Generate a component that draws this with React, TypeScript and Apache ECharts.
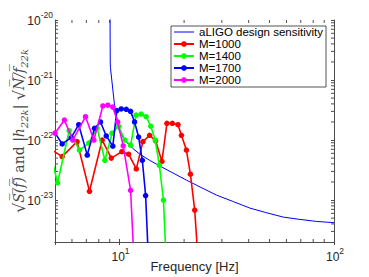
import React, { useEffect, useRef } from 'react';
import * as echarts from 'echarts';

// ---------------- data ----------------
const aligoFreq = [9.0, 9.05, 9.07, 9.5, 10, 10.75, 11.5, 12.4, 13.8, 15.4, 17.5, 20.5, 24, 28.3, 34, 40.5, 48, 58, 68, 83, 100];
const aligoAsd = [1e-19, 2.0e-21, 1.6e-21, 3.5e-22, 1.36e-22, 9.3e-23, 7.3e-23, 5.85e-23, 4.6e-23, 3.7e-23, 2.9e-23, 2.15e-23, 1.62e-23, 1.21e-23, 9.4e-24, 7.35e-24, 6.2e-24, 5.2e-24, 4.8e-24, 4.4e-24, 4.2e-24];

const m1000Freq = [4.5, 5.4, 6.34, 7.24, 8.3, 9.15, 10.25, 11.02, 11.97, 12.85, 13.81, 14.73, 15.76, 16.63, 17.63, 18.73, 19.43, 20.5, 21.4, 22.41, 23.36];
const m1000Val = [8.0e-23, 5.3e-23, 9.4e-23, 1.4e-23, 1.0e-22, 5.0e-23, 6.4e-23, 5.8e-23, 3.3e-23, 9.4e-23, 1.2e-22, 9.7e-23, 4.4e-23, 1.9e-22, 1.9e-22, 1.8e-22, 1.2e-22, 6.8e-23, 2.7e-23, 6.8e-24, 7.6e-25];

const m1400Freq = [4.61, 5.14, 5.82, 6.5, 7.18, 7.86, 8.54, 9.22, 9.9, 10.58, 11.26, 11.94, 12.62, 13.3, 13.98, 14.66, 15.34, 16.02, 16.7];
const m1400Val = [9.6e-23, 1.94e-23, 1.43e-22, 6.8e-23, 8.9e-23, 1.58e-22, 4.6e-23, 1.3e-22, 1.7e-22, 1.0e-22, 8.2e-23, 2.6e-22, 2.7e-22, 2.45e-22, 1.7e-22, 1.0e-22, 3.8e-23, 1.0e-23, 3.7e-25];

const m1700Freq = [4.76, 5.4, 5.95, 6.45, 7.07, 7.64, 8.15, 8.67, 9.3, 9.71, 10.18, 10.75, 11.26, 11.75, 12.27, 12.77, 13.23, 13.75];
const m1700Val = [1.72e-22, 8.6e-23, 1.1e-22, 1.8e-22, 5.6e-23, 1.57e-22, 2.0e-22, 1.17e-22, 7.9e-23, 3.1e-22, 3.3e-22, 3.25e-22, 3.0e-22, 2.0e-22, 1.12e-22, 4.6e-23, 1.19e-23, 5e-25];

const m2000Freq = [5.0, 5.53, 6.05, 6.94, 7.59, 8.36, 8.82, 9.3, 9.8, 10.4, 11.26, 11.8];
const m2000Val = [1.3e-22, 2.15e-22, 1.0e-22, 2.45e-22, 1.0e-22, 3.7e-22, 3.8e-22, 3.55e-22, 2.0e-22, 8e-23, 1.45e-23, 4.5e-25];

const seriesNames = ['aLIGO design sensitivity', 'M=1000', 'M=1400', 'M=1700', 'M=2000'];
const seriesColors = ['#0000ff', '#ff0000', '#00ff00', '#0000ff', '#ff00ff'];

const xRange = [5, 100];
const yRange = [2e-24, 1e-20];
const xMajorTicks = [10, 100];
const yMajorTicks = [1e-23, 1e-22, 1e-21, 1e-20];
const xMinorTicks = [6, 7, 8, 9, 20, 30, 40, 50, 60, 70, 80, 90];
const yMinorTicks = [
  3e-24, 4e-24, 5e-24, 6e-24, 7e-24, 8e-24, 9e-24,
  2e-23, 3e-23, 4e-23, 5e-23, 6e-23, 7e-23, 8e-23, 9e-23,
  2e-22, 3e-22, 4e-22, 5e-22, 6e-22, 7e-22, 8e-22, 9e-22,
  2e-21, 3e-21, 4e-21, 5e-21, 6e-21, 7e-21, 8e-21, 9e-21,
];

const zip = (a: number[], b: number[]) => a.map((v, i) => [v, b[i]]);

const AXIS_COLOR = '#4d4d4d';
const SANS = 'Liberation Sans, Arial, Helvetica, sans-serif';

const powText = (v: number) => `{b|10}{s|${Math.round(Math.log10(v))}}`;
const tickRich = {
  b: { fontFamily: SANS, fontSize: 12, fill: '#262626', lineHeight: 22, verticalAlign: 'middle' },
  s: { fontFamily: SANS, fontSize: 8.5, fill: '#262626', lineHeight: 6, verticalAlign: 'top' },
};

const O = '\u0305';
const over = (s: string) => s.split('').map((c) => c + O).join('');

export default function App() {
  const ref = useRef<HTMLDivElement>(null);
  useEffect(() => {
    if (!ref.current) return;
    const chart = echarts.init(ref.current, null, { renderer: 'svg' });
    const lineSeries = (i: number, f: number[], v: number[]) => ({
      name: seriesNames[i],
      type: 'line',
      data: zip(f, v),
      xAxisIndex: 0,
      yAxisIndex: 0,
      symbol: 'circle',
      symbolSize: 5.5,
      showSymbol: true,
      clip: true,
      lineStyle: { color: seriesColors[i], width: 1.6 },
      itemStyle: { color: seriesColors[i] },
      z: 3 + i,
    });
    const axisCommon = {
      type: 'log', logBase: 10,
      axisLine: { show: true, lineStyle: { color: AXIS_COLOR, width: 1 } },
      axisTick: { show: true, inside: true, length: 3, lineStyle: { color: AXIS_COLOR } },
      splitLine: { show: false },
      axisLabel: { show: false },
    };
    const option: any = {
      animation: false,
      backgroundColor: '#fff',
      grid: { left: 55, top: 20, width: 279, height: 222, containLabel: false, outerBoundsMode: 'none' },
      legend: {
        orient: 'vertical',
        left: 171,
        top: 26,
        align: 'left',
        backgroundColor: '#fff',
        borderColor: '#262626',
        borderWidth: 0.8,
        borderRadius: 0,
        padding: [0, 3, 1, 2],
        itemGap: 0,
        itemWidth: 20,
        itemHeight: 7,
        data: [
          { name: seriesNames[0], itemStyle: { opacity: 0 }, lineStyle: { width: 1 } },
          seriesNames[1], seriesNames[2], seriesNames[3], seriesNames[4],
        ],
        textStyle: { fontSize: 11.5, fontFamily: SANS, color: '#000', lineHeight: 11.8 },
      },
      xAxis: [
        {
          ...axisCommon, min: xRange[0], max: xRange[1], position: 'bottom',
          name: 'Frequency [Hz]', nameLocation: 'middle', nameGap: 18, nameMoveOverlap: false,
          nameTextStyle: { fontSize: 13, fontFamily: SANS, color: '#262626' },
        },
        { ...axisCommon, min: xRange[0], max: xRange[1], position: 'top' },
      ],
      yAxis: [
        { ...axisCommon, min: yRange[0], max: yRange[1], position: 'left' },
        { ...axisCommon, min: yRange[0], max: yRange[1], position: 'right' },
      ],
      series: [
        {
          name: seriesNames[0],
          type: 'line',
          data: zip(aligoFreq, aligoAsd),
          symbol: 'none',
          showSymbol: false,
          clip: true,
          lineStyle: { color: seriesColors[0], width: 1 },
          itemStyle: { color: seriesColors[0] },
          z: 2,
        },
        lineSeries(1, m1000Freq, m1000Val),
        lineSeries(2, m1400Freq, m1400Val),
        lineSeries(3, m1700Freq, m1700Val),
        lineSeries(4, m2000Freq, m2000Val),
      ],
    };
    chart.setOption(option);

    // minor ticks, tick labels and the y-axis title placed through the axes' own scales
    const xb = chart.convertToPixel({ yAxisIndex: 0 }, yRange[0]) as number;
    const xt = chart.convertToPixel({ yAxisIndex: 0 }, yRange[1]) as number;
    const yl = chart.convertToPixel({ xAxisIndex: 0 }, xRange[0]) as number;
    const yr = chart.convertToPixel({ xAxisIndex: 0 }, xRange[1]) as number;
    const L = 3;
    const st = { stroke: AXIS_COLOR, lineWidth: 1 };
    const g: any[] = [];
    if ([xb, xt, yl, yr].every((n) => isFinite(n))) {
      xMinorTicks.forEach((v) => {
        const px = chart.convertToPixel({ xAxisIndex: 0 }, v) as number;
        g.push({ type: 'line', shape: { x1: px, y1: xb, x2: px, y2: xb - L }, style: st, silent: true });
        g.push({ type: 'line', shape: { x1: px, y1: xt, x2: px, y2: xt + L }, style: st, silent: true });
      });
      yMinorTicks.forEach((v) => {
        const py = chart.convertToPixel({ yAxisIndex: 0 }, v) as number;
        g.push({ type: 'line', shape: { x1: yl, y1: py, x2: yl + L, y2: py }, style: st, silent: true });
        g.push({ type: 'line', shape: { x1: yr, y1: py, x2: yr - L, y2: py }, style: st, silent: true });
      });
      xMajorTicks.forEach((v) => {
        const px = chart.convertToPixel({ xAxisIndex: 0 }, v) as number;
        g.push({
          type: 'text', x: px + 1, y: xb + 15, silent: true,
          style: { text: powText(v), align: 'center', verticalAlign: 'middle', rich: tickRich },
        });
      });
      yMajorTicks.forEach((v) => {
        const py = chart.convertToPixel({ yAxisIndex: 0 }, v) as number;
        g.push({
          type: 'text', x: yl - 2, y: py + 1, silent: true,
          style: { text: powText(v), align: 'right', verticalAlign: 'middle', rich: tickRich },
        });
      });
      const C = '#4a4a4a';
      const F = 'DejaVu Serif';
      g.push({
        type: 'text',
        x: yl - 36,
        y: (xb + xt) / 2,
        rotation: Math.PI / 2,
        silent: true,
        style: {
          text: `{r|√}{m|${over('S(f)')}}{u| and |}{m|h}{sb|22k}{u|| }{r|√}{m|${over('N/f')}}{sb|22k}`,
          align: 'center',
          verticalAlign: 'middle',
          rich: {
            m: { fontFamily: F, fontStyle: 'italic', fontSize: 14, fill: C, lineHeight: 20, verticalAlign: 'middle' },
            u: { fontFamily: F, fontSize: 14, fill: C, lineHeight: 20, verticalAlign: 'middle' },
            r: { fontFamily: F, fontSize: 16, fill: C, lineHeight: 20, verticalAlign: 'middle' },
            sb: { fontFamily: F, fontStyle: 'italic', fontSize: 10, fill: C, lineHeight: 20, verticalAlign: 'bottom' },
          },
        },
      });
      chart.setOption({ graphic: g });
    }

    return () => chart.dispose();
  }, []);
  return (
    <div
      ref={ref}
      style={{ position: 'fixed', left: 0, top: 0, width: 369, height: 277, background: '#fff' }}
    />
  );
}
